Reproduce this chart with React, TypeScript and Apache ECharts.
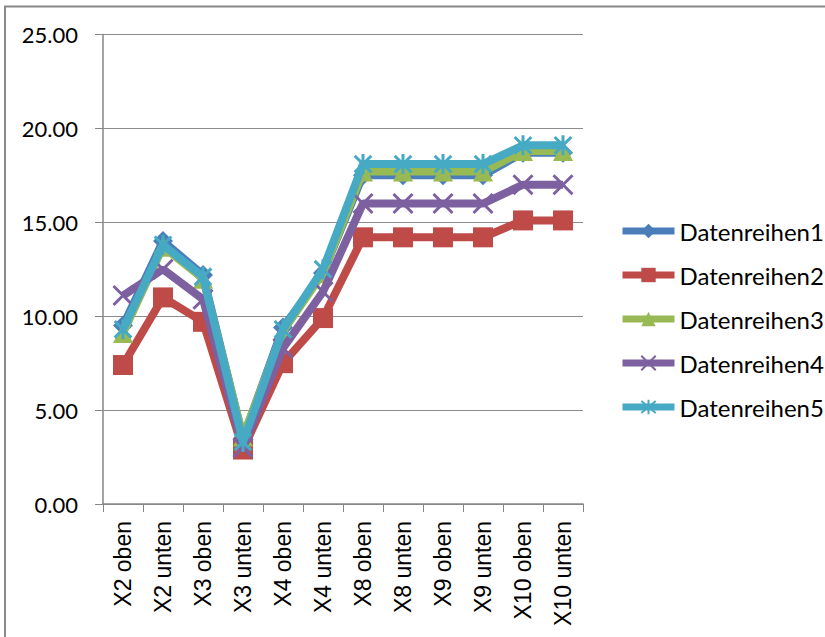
import React, { useEffect, useRef } from "react";
import * as echarts from "echarts";

const categories = [
  "X2 oben", "X2 unten", "X3 oben", "X3 unten", "X4 oben", "X4 unten",
  "X8 oben", "X8 unten", "X9 oben", "X9 unten", "X10 oben", "X10 unten",
];

const seriesNames = ["Datenreihen1", "Datenreihen2", "Datenreihen3", "Datenreihen4", "Datenreihen5"];

const reihe1 = [9.5, 14.0, 12.2, 3.5, 9.4, 12.3, 17.5, 17.5, 17.5, 17.5, 18.7, 18.7];
const reihe2 = [7.4, 11.0, 9.7, 2.9, 7.5, 9.9, 14.2, 14.2, 14.2, 14.2, 15.1, 15.1];
const reihe3 = [9.1, 13.7, 12.0, 3.6, 9.2, 12.3, 17.7, 17.7, 17.7, 17.7, 18.8, 18.8];
const reihe4 = [11.1, 12.5, 10.9, 3.0, 8.3, 11.3, 16.0, 16.0, 16.0, 16.0, 17.0, 17.0];
const reihe5 = [9.3, 13.8, 12.1, 3.3, 9.3, 12.5, 18.1, 18.1, 18.1, 18.1, 19.1, 19.1];

const yTicks = { min: 0, max: 25, interval: 5 };

const colors = ["#4A7EBB", "#BE4B48", "#98B954", "#7D60A0", "#46AAC5"];

const crossPath = "path://M0,0 L10,10 M10,0 L0,10";
const starPath = "path://M0,0 L10,10 M10,0 L0,10 M5,-1 L5,11";

export default function App() {
  const ref = useRef<HTMLDivElement>(null);
  useEffect(() => {
    if (!ref.current) return;
    const chart = echarts.init(ref.current, undefined, { renderer: "svg" });
    const data = [reihe1, reihe2, reihe3, reihe4, reihe5];
    const symbols: any[] = ["diamond", "rect", "triangle", crossPath, starPath];
    const sizes: any[] = [20, 20, 20, 19, 20];
    const series = data.map((d, i) => {
      const stroked = i >= 3;
      return {
        name: seriesNames[i],
        type: "line",
        data: d,
        symbol: symbols[i],
        symbolSize: sizes[i],
        symbolKeepAspect: true,
        showAllSymbol: true,
        color: colors[i],
        lineStyle: { width: 8, color: colors[i] },
        itemStyle: stroked
          ? { color: colors[i], borderColor: colors[i], borderWidth: 3 }
          : { color: colors[i], borderWidth: 0 },
        z: 2 + i,
      };
    });
    chart.setOption({
      animation: false,
      backgroundColor: "#ffffff",
      graphic: [
        {
          type: "rect",
          shape: { x: 5, y: 6.5, width: 900, height: 700 },
          style: { fill: "none", stroke: "#8a8a8a", lineWidth: 2 },
          silent: true,
        },
      ],
      grid: { left: 103, right: 242, top: 34.5, bottom: 133, containLabel: false },
      legend: {
        orient: "vertical",
        left: 614,
        top: 214,
        itemWidth: 52,
        itemHeight: 18,
        itemGap: 20,
        lineStyle: { width: 7 },
        textStyle: { fontFamily: "Lato", fontSize: 24, color: "#000", lineHeight: 24 },
        data: seriesNames,
      },
      xAxis: {
        type: "category",
        data: categories,
        boundaryGap: true,
        axisLine: { lineStyle: { color: "#868686", width: 1.5 } },
        axisTick: { show: true, length: 8, lineStyle: { color: "#868686", width: 1 } },
        axisLabel: {
          rotate: 90,
          margin: 17,
          fontFamily: "Liberation Sans",
          fontSize: 23,
          color: "#000",
          interval: 0,
        },
        splitLine: { show: false },
      },
      yAxis: {
        type: "value",
        min: yTicks.min,
        max: yTicks.max,
        interval: yTicks.interval,
        axisLine: { show: true, lineStyle: { color: "#868686", width: 1.5 } },
        axisTick: { show: true, length: 8, lineStyle: { color: "#868686", width: 1 } },
        axisLabel: {
          margin: 25,
          fontFamily: "Lato",
          fontSize: 22,
          color: "#000",
          formatter: (v: number) => v.toFixed(2),
        },
        splitLine: { show: true, lineStyle: { color: "#8c8c8c", width: 1 } },
      },
      series,
    });
    return () => chart.dispose();
  }, []);
  return <div ref={ref} style={{ width: 825, height: 637, position: "absolute", left: 0, top: 0 }} />;
}
